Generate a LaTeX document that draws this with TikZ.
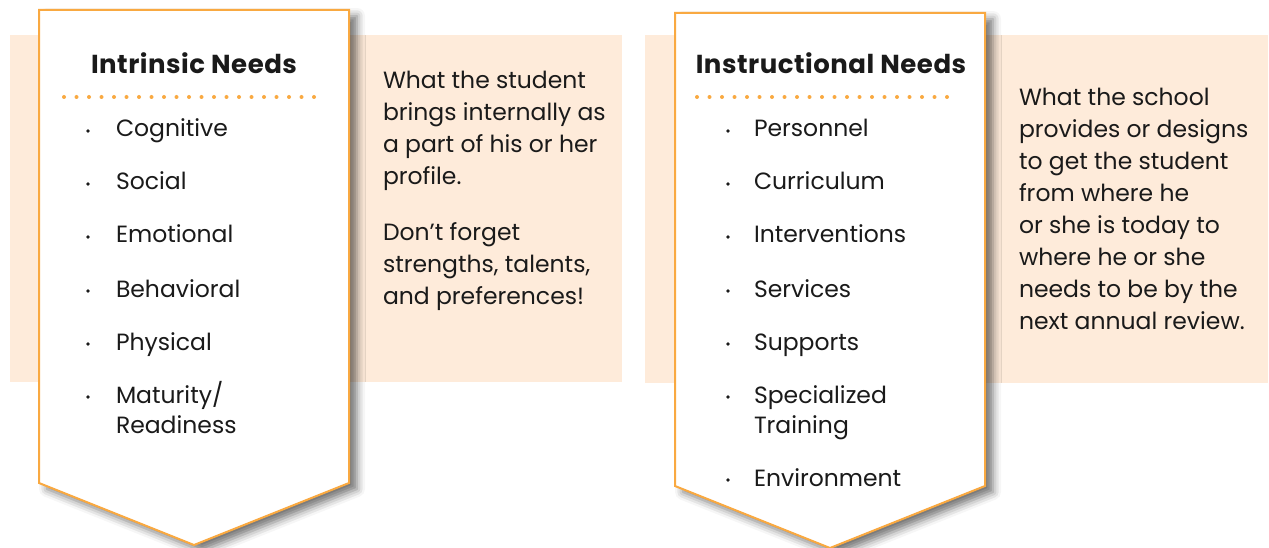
\documentclass[tikz,border=0pt]{standalone}
\usepackage{fontspec}
\setmainfont{Poppins}
\usepackage{tikz}
\usetikzlibrary{shadows.blur}
\definecolor{needorange}{HTML}{F9A941}
\definecolor{needpeach}{HTML}{FEEBDA}
\definecolor{needtext}{HTML}{1A1A1A}

\begin{document}
\begin{tikzpicture}[x=1pt,y=-1pt,
    every node/.style={inner sep=0pt,outer sep=0pt,text=needtext},
    backbox/.style={fill=needpeach},
    arrowbox/.style={draw=needorange,line width=2pt,fill=white,
      blur shadow={shadow xshift=8pt,shadow yshift=-6pt,shadow blur radius=8pt,shadow opacity=55}},
    headtext/.style={anchor=base,font=\fontsize{26}{28}\selectfont\bfseries\addfontfeature{LetterSpace=2}},
    dotline/.style={draw=needorange,line width=4pt,line cap=round,dash pattern=on 0pt off 12.5pt},
    itemtext/.style={anchor=base west,align=left,font=\fontsize{23.5}{30}\selectfont},
    desctext/.style={anchor=base west,align=left,font=\fontsize{23.5}{32}\selectfont},
    dotmark/.style={fill=needtext}]
  \useasboundingbox (0,0) rectangle (1269,548);

  % left panel
  \fill[backbox] (10,35) rectangle (622,382);
  \draw[arrowbox] (39,10) -- (349,10) -- (349,483) -- (194,545) -- (39,483) -- cycle;
  \node[headtext] (intrhead) at (194,74) {Intrinsic Needs};
  \coordinate (intrdotA) at (64,97);
  \coordinate (intrdotB) at (325,97);
  \draw[dotline] (intrdotA) -- (intrdotB);
  \node[itemtext] (cog) at (116,137) {Cognitive};
  \node[itemtext] (soc) at (116,190) {Social};
  \node[itemtext] (emo) at (116,243) {Emotional};
  \node[itemtext] (beh) at (116,297) {Behavioral};
  \node[itemtext] (phy) at (116,350) {Physical};
  % multi-line nodes sit on their last line
  \node[itemtext] (mat) at (116,433) {Maturity/\\Readiness};
  \foreach \y in {131,184,237,291,344,397}
    \fill[dotmark] (88,\y) circle (1.8pt);
  \node[desctext] (intrdesc) at (383,304) {What the student\\brings internally as\\a part of his or her\\profile.\\[24pt]Don’t forget\\strengths, talents,\\and preferences!};

  % right panel
  \fill[backbox] (645,35) rectangle (1268,383);
  \draw[arrowbox] (675,13) -- (985,13) -- (985,486) -- (830,548) -- (675,486) -- cycle;
  \node[headtext] (instrhead) at (831,74) {Instructional Needs};
  \coordinate (instrdotA) at (697,97);
  \coordinate (instrdotB) at (958,97);
  \draw[dotline] (instrdotA) -- (instrdotB);
  \node[itemtext] (pers) at (754,137) {Personnel};
  \node[itemtext] (curr) at (754,190) {Curriculum};
  \node[itemtext] (intv) at (754,243) {Interventions};
  \node[itemtext] (serv) at (754,297) {Services};
  \node[itemtext] (supp) at (754,350) {Supports};
  \node[itemtext] (spec) at (754,433) {Specialized\\Training};
  \node[itemtext] (envi) at (754,486) {Environment};
  \foreach \y in {131,184,237,291,344,397,480}
    \fill[dotmark] (728,\y) circle (1.8pt);
  \node[desctext] (instrdesc) at (1019,329) {What the school\\provides or designs\\to get the student\\from where he\\or she is today to\\where he or she\\needs to be by the\\next annual review.};
\end{tikzpicture}
\end{document}
